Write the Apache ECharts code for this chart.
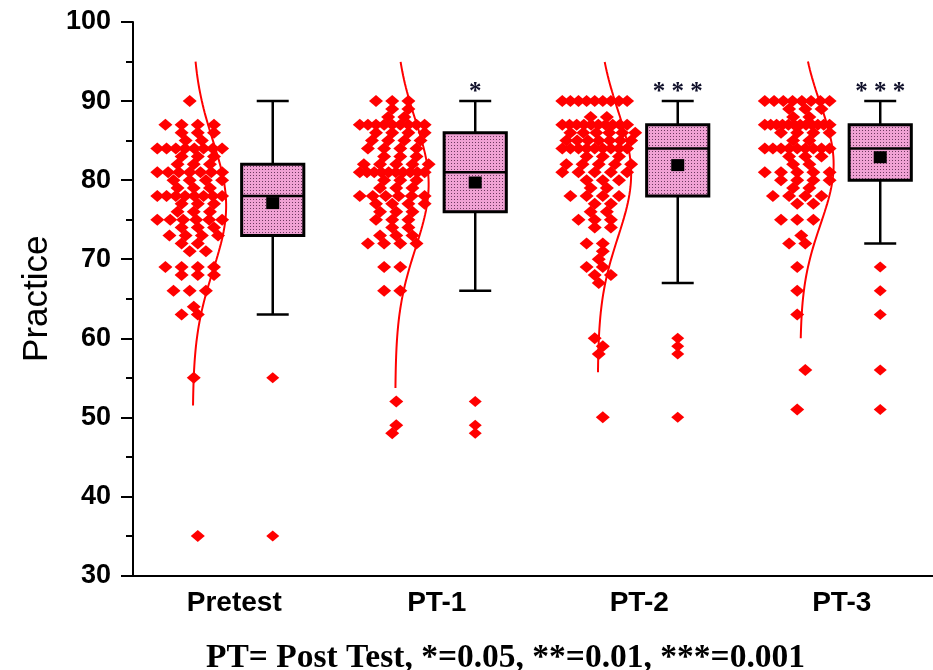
<!DOCTYPE html>
<html>
<head>
<meta charset="utf-8">
<script src="https://cdn.jsdelivr.net/npm/echarts@6/dist/echarts.min.js"></script>
<style>
  html, body { margin: 0; padding: 0; background: #fff; }
  #chart { width: 933px; height: 670px; }
</style>
</head>
<body>
<div id="chart"></div>
<script>
// scores, one entry per student
const categories = ['Pretest', 'PT-1', 'PT-2', 'PT-3'];
const pretestScores = [
  90, 87, 87, 87, 87, 86, 86, 86, 85, 85,
  84, 84, 84, 84, 84, 84, 84, 84, 83, 83, 83, 82, 82, 82,
  81, 81, 81, 81, 81, 81, 81, 80, 80, 80, 80, 79, 79, 79,
  78, 78, 78, 78, 78, 78, 78, 78, 77, 77, 77, 76, 76, 76,
  75, 75, 75, 75, 75, 75, 74, 74, 74, 73, 73, 73, 73, 72, 72, 71, 71,
  69, 69, 69, 69, 68, 68, 68, 66, 66, 66, 64, 63, 63, 55, 35
];
const pt1Scores = [
  90, 90, 90, 89, 89, 88, 88, 87, 87, 87, 87, 87, 87, 87, 87, 87,
  86, 86, 86, 86, 85, 85, 85, 85, 84, 84, 84, 84, 83, 83, 83,
  82, 82, 82, 82, 82, 81, 81, 81, 81, 81, 81, 81, 81, 81, 81,
  80, 80, 80, 79, 79, 79, 78, 78, 78, 78, 78, 78, 77, 77, 77, 77,
  76, 76, 76, 75, 75, 75, 74, 74, 73, 73, 73, 72, 72, 72, 72,
  69, 69, 66, 66, 52, 49, 48
];
const pt2Scores = [
  90, 90, 90, 90, 90, 90, 90, 90, 90, 88, 88,
  87, 87, 87, 87, 87, 87, 87, 87, 87, 87, 86, 86, 86, 86, 86, 86,
  85, 85, 85, 85, 85, 85, 85, 84, 84, 84, 84, 84, 84, 84, 84, 84,
  83, 83, 83, 82, 82, 82, 82, 82, 81, 81, 81, 81, 81, 80, 80, 80,
  79, 79, 78, 78, 78, 78, 77, 77, 76, 76, 75, 75, 75, 74, 74,
  72, 72, 71, 70, 69, 69, 68, 68, 67, 60, 59, 58, 50
];
const pt3Scores = [
  90, 90, 90, 90, 90, 90, 90, 90, 89, 89, 89, 88, 88,
  87, 87, 87, 87, 87, 87, 87, 87, 87, 87, 87, 87, 86, 86, 86, 86, 85, 85,
  84, 84, 84, 84, 84, 84, 84, 84, 84, 83, 83, 83, 82, 82,
  81, 81, 81, 81, 81, 80, 80, 80, 80, 79, 79, 78, 78, 78, 78, 77, 77,
  75, 75, 75, 73, 72, 72, 69, 66, 63, 56, 51
];

// box plot statistics as drawn
const whiskerLow = [63, 66, 67, 72];
const q1 = [73, 76, 78, 80];
const median = [78, 81, 84, 84];
const q3 = [82, 86, 87, 87];
const whiskerHigh = [90, 90, 90, 90];
const means = [77.1, 79.7, 81.9, 82.9];
const outliers = [[55, 35], [52, 49, 48], [60, 59, 58, 50], [69, 66, 63, 56, 51]];
const curveLow = [51.5, 53.7, 55.7, 60];
const curveHigh = [95, 95, 95, 95];
const stars = ['', '*', '* * *', '* * *'];

const groups = [pretestScores, pt1Scores, pt2Scores, pt3Scores];

// layout in x-axis units (one category = 1)
const boxOffset = 0.19;
const boxWidth = 0.307;
const capWidth = 0.158;
const cloudOffset = -0.2;
const curveOffset = -0.205;
const curveAmp = 0.165;

// pink dotted fill for the boxes
function dotPattern() {
  const c = document.createElement('canvas');
  c.width = 3; c.height = 3;
  const ctx = c.getContext('2d');
  ctx.fillStyle = '#f0a2d4';
  ctx.fillRect(0, 0, 3, 3);
  ctx.fillStyle = '#6e3a60';
  ctx.fillRect(1, 1, 1, 1);
  return c;
}
const boxFill = { image: dotPattern(), repeat: 'repeat' };

// spread equal scores sideways, like a swarm
function swarm(scores, center) {
  const rows = {};
  scores.forEach(v => { (rows[v] = rows[v] || []).push(v); });
  const pts = [];
  Object.keys(rows).forEach(k => {
    const n = rows[k].length;
    const span = Math.min(0.32, 0.08 * (n - 1));
    const shift = ((+k % 3) - 1) * 0.02;
    rows[k].forEach((v, j) => {
      const x = n === 1 ? center + shift : center + shift - span / 2 + span * j / (n - 1);
      pts.push([x, v]);
    });
  });
  return pts;
}

function normalCurve(scores, i) {
  const m = scores.reduce((a, b) => a + b, 0) / scores.length;
  const s = Math.sqrt(scores.reduce((a, b) => a + (b - m) * (b - m), 0) / (scores.length - 1));
  const base = i + 0.5 + curveOffset;
  const pts = [];
  for (let v = curveLow[i]; v <= curveHigh[i] + 1e-6; v += 0.25) {
    pts.push([base + curveAmp * Math.exp(-(v - m) * (v - m) / (2 * s * s)), v]);
  }
  return pts;
}

const series = [];
groups.forEach((scores, i) => {
  series.push({
    type: 'scatter', xAxisIndex: 1, symbol: 'diamond', symbolSize: [14, 12],
    itemStyle: { color: '#ff0000', opacity: 1 },
    data: swarm(scores, i + 0.5 + cloudOffset)
  });
  series.push({
    type: 'line', xAxisIndex: 1, showSymbol: false, symbol: 'none',
    lineStyle: { color: '#ff0000', width: 2 },
    data: normalCurve(scores, i)
  });
});

series.push({
  type: 'custom', xAxisIndex: 1,
  data: categories.map((c, i) => [i + 0.5 + boxOffset, whiskerLow[i], q1[i], median[i], q3[i], whiskerHigh[i]]),
  encode: { x: 0, y: [1, 2, 3, 4, 5] },
  renderItem: function (params, api) {
    const x = api.value(0);
    const half = api.size([boxWidth, 0])[0] / 2;
    const capHalf = api.size([capWidth, 0])[0] / 2;
    const pLow = api.coord([x, api.value(1)]);
    const pQ1 = api.coord([x, api.value(2)]);
    const pMed = api.coord([x, api.value(3)]);
    const pQ3 = api.coord([x, api.value(4)]);
    const pHigh = api.coord([x, api.value(5)]);
    const line = { stroke: '#000', lineWidth: 2.5 };
    return {
      type: 'group',
      children: [
        { type: 'line', shape: { x1: pQ3[0], y1: pQ3[1], x2: pHigh[0], y2: pHigh[1] }, style: line },
        { type: 'line', shape: { x1: pQ1[0], y1: pQ1[1], x2: pLow[0], y2: pLow[1] }, style: line },
        { type: 'line', shape: { x1: pHigh[0] - capHalf, y1: pHigh[1], x2: pHigh[0] + capHalf, y2: pHigh[1] }, style: line },
        { type: 'line', shape: { x1: pLow[0] - capHalf, y1: pLow[1], x2: pLow[0] + capHalf, y2: pLow[1] }, style: line },
        { type: 'rect', shape: { x: pQ3[0] - half, y: pQ3[1], width: half * 2, height: pQ1[1] - pQ3[1] },
          style: { fill: boxFill, stroke: '#000', lineWidth: 3 } },
        { type: 'line', shape: { x1: pMed[0] - half, y1: pMed[1], x2: pMed[0] + half, y2: pMed[1] }, style: line },
        { type: 'text', x: pHigh[0], y: pHigh[1] - 9,
          style: { text: stars[params.dataIndex], font: 'bold 25px "Liberation Serif"', fill: '#10102a',
                   align: 'center', verticalAlign: 'middle' } }
      ]
    };
  }
});

series.push({
  type: 'scatter', xAxisIndex: 1, symbol: 'rect', symbolSize: [13, 12], z: 5,
  itemStyle: { color: '#000', opacity: 1 },
  data: means.map((m, i) => [i + 0.5 + boxOffset, m])
});

const outlierPts = [];
outliers.forEach((list, i) => list.forEach(v => outlierPts.push([i + 0.5 + boxOffset, v])));
series.push({
  type: 'scatter', xAxisIndex: 1, symbol: 'diamond', symbolSize: [13, 11],
  itemStyle: { color: '#ff0000', opacity: 1 },
  data: outlierPts
});

const chart = echarts.init(document.getElementById('chart'));
chart.setOption({
  animation: false,
  backgroundColor: '#fff',
  grid: { left: 133, width: 810, top: 22, bottom: 94.5, outerBoundsMode: 'none' },
  xAxis: [
    {
      type: 'category', data: categories, boundaryGap: true,
      axisLine: { lineStyle: { color: '#000', width: 2 } },
      axisTick: { alignWithLabel: true, length: 10, lineStyle: { color: '#000', width: 2 } },
      axisLabel: { color: '#000', fontWeight: 'bold', fontSize: 28, fontFamily: 'Liberation Sans', margin: 14 }
    },
    { type: 'value', min: 0, max: 4, show: false }
  ],
  yAxis: {
    type: 'value', min: 30, max: 100, interval: 10,
    name: 'Practice', nameLocation: 'middle', nameGap: 78,
    nameTextStyle: { color: '#000', fontSize: 35, fontFamily: 'Liberation Sans' },
    axisLine: { show: true, lineStyle: { color: '#000', width: 2 } },
    axisTick: { show: true, length: 12, lineStyle: { color: '#000', width: 2 } },
    minorTick: { show: true, splitNumber: 2, length: 7, lineStyle: { color: '#000', width: 2 } },
    splitLine: { show: false },
    axisLabel: { color: '#000', fontWeight: 'bold', fontSize: 27, fontFamily: 'Liberation Sans', margin: 22 }
  },
  graphic: [{
    type: 'text', left: 206, top: 641,
    style: { text: 'PT= Post Test, *=0.05, **=0.01, ***=0.001', font: 'bold 33.5px "Liberation Serif"', fill: '#000' }
  }],
  series: series
});
</script>
</body>
</html>
